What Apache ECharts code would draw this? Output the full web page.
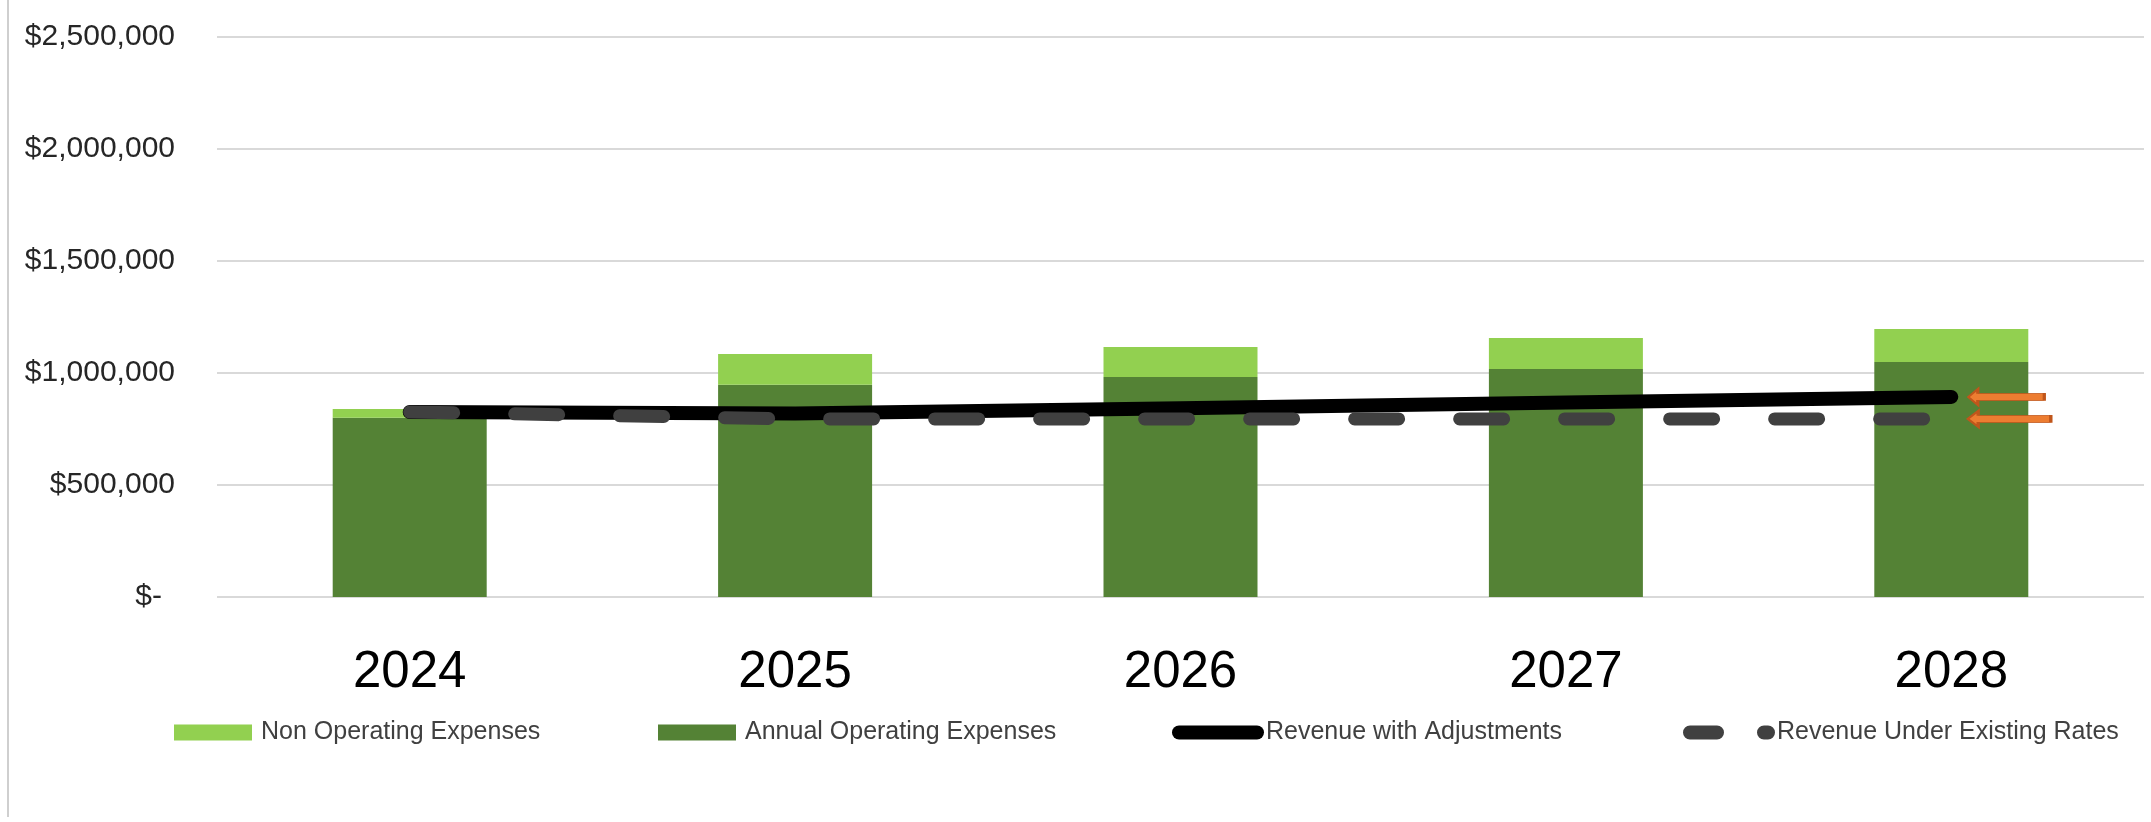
<!DOCTYPE html>
<html>
<head>
<meta charset="utf-8">
<script src="https://cdn.jsdelivr.net/npm/echarts@6/dist/echarts.min.js"></script>
<style>
html,body{margin:0;padding:0;background:#fff;}
#chart{width:2151px;height:822px;}
</style>
</head>
<body>
<div id="chart"></div>
<script>
var years = ['2024', '2025', '2026', '2027', '2028'];
var nonOperating = [39000, 137000, 134000, 138000, 147000];
var annualOperating = [800000, 948000, 982000, 1018000, 1049000];
var revenueAdjusted = [826000, 819000, 843000, 868000, 893000];
var revenueExisting = [826000, 795000, 795000, 795000, 795000];
var yTicks = {min: 0, max: 2500000, interval: 500000};

var FONT = 'Liberation Sans';
var chart = echarts.init(document.getElementById('chart'), null, {renderer: 'canvas'});

function money(v) {
  if (v === 0) return '{z|$-}';
  return '$' + v.toString().replace(/\B(?=(\d{3})+(?!\d))/g, ',');
}

var arrowPath = 'path://M0,8 L10,0 L10,4.5 L80,4.5 L80,11.5 L10,11.5 L10,16 Z';
var arrowStyle = {color: '#ED7D31', borderColor: '#C0561B', borderWidth: 1.5};
var hiddenDot = {color: 'rgba(0,0,0,0)', borderWidth: 0, opacity: 0};

function legendItem(name, left, extra) {
  return {
    left: left, top: 720, padding: 0,
    itemWidth: 78, itemHeight: 16,
    textStyle: {fontFamily: FONT, fontSize: 25, color: '#404040', padding: [0, 0, 0, 4]},
    selectedMode: false,
    data: [Object.assign({name: name}, extra || {})]
  };
}

var option = {
  backgroundColor: '#ffffff',
  animation: false,
  grid: {left: 217, right: 7, top: 37, bottom: 225, containLabel: false},
  legend: [
    legendItem('Non Operating Expenses', 174, {icon: 'rect'}),
    legendItem('Annual Operating Expenses', 658, {icon: 'rect'}),
    legendItem('Revenue with Adjustments', 1172, {itemStyle: hiddenDot, lineStyle: {width: 14, cap: 'round', color: '#000000', type: 'solid'}}),
    legendItem('Revenue Under Existing Rates', 1683, {itemStyle: hiddenDot, lineStyle: {width: 14, cap: 'round', color: '#404040', type: [27, 47]}})
  ],
  xAxis: {
    type: 'category',
    data: years,
    axisLine: {show: false},
    axisTick: {show: false},
    axisLabel: {fontFamily: FONT, fontSize: 51, color: '#000000', margin: 50}
  },
  yAxis: {
    type: 'value',
    min: yTicks.min, max: yTicks.max, interval: yTicks.interval,
    axisLine: {show: false},
    axisTick: {show: false},
    splitLine: {lineStyle: {color: '#D9D9D9', width: 2}},
    axisLabel: {
      fontFamily: FONT, fontSize: 30, color: '#262626', margin: 42,
      formatter: money,
      rich: {z: {fontFamily: FONT, fontSize: 30, color: '#262626', padding: [0, 13, 0, 0]}}
    }
  },
  series: [
    {
      name: 'Annual Operating Expenses', type: 'bar', stack: 'exp',
      data: annualOperating, barWidth: 154,
      itemStyle: {color: '#548235'}
    },
    {
      name: 'Non Operating Expenses', type: 'bar', stack: 'exp',
      data: nonOperating, barWidth: 154,
      itemStyle: {color: '#92D050'}
    },
    {
      name: 'Revenue with Adjustments', type: 'line',
      data: revenueAdjusted, symbol: 'none', smooth: false,
      itemStyle: {color: '#000000'},
      lineStyle: {color: '#000000', width: 14, cap: 'round', join: 'round'},
      z: 3,
      markPoint: {
        symbol: arrowPath, symbolSize: [76, 16], symbolOffset: [55, 0], symbolKeepAspect: false,
        label: {show: false}, itemStyle: arrowStyle, silent: true,
        data: [{coord: [years[4], revenueAdjusted[4]]}]
      }
    },
    {
      name: 'Revenue Under Existing Rates', type: 'line',
      data: revenueExisting, symbol: 'none', smooth: false,
      itemStyle: {color: '#404040'},
      lineStyle: {color: '#404040', width: 13, cap: 'round', join: 'round', type: [44, 61]},
      z: 4,
      markPoint: {
        symbol: arrowPath, symbolSize: [83, 16], symbolOffset: [58, 0], symbolKeepAspect: false,
        label: {show: false}, itemStyle: arrowStyle, silent: true,
        data: [{coord: [years[4], revenueExisting[4]]}]
      }
    }
  ],
  graphic: [
    {type: 'line', shape: {x1: 8, y1: 0, x2: 8, y2: 817}, style: {stroke: '#BFBFBF', lineWidth: 1.5}, silent: true}
  ]
};
chart.setOption(option);
</script>
</body>
</html>
